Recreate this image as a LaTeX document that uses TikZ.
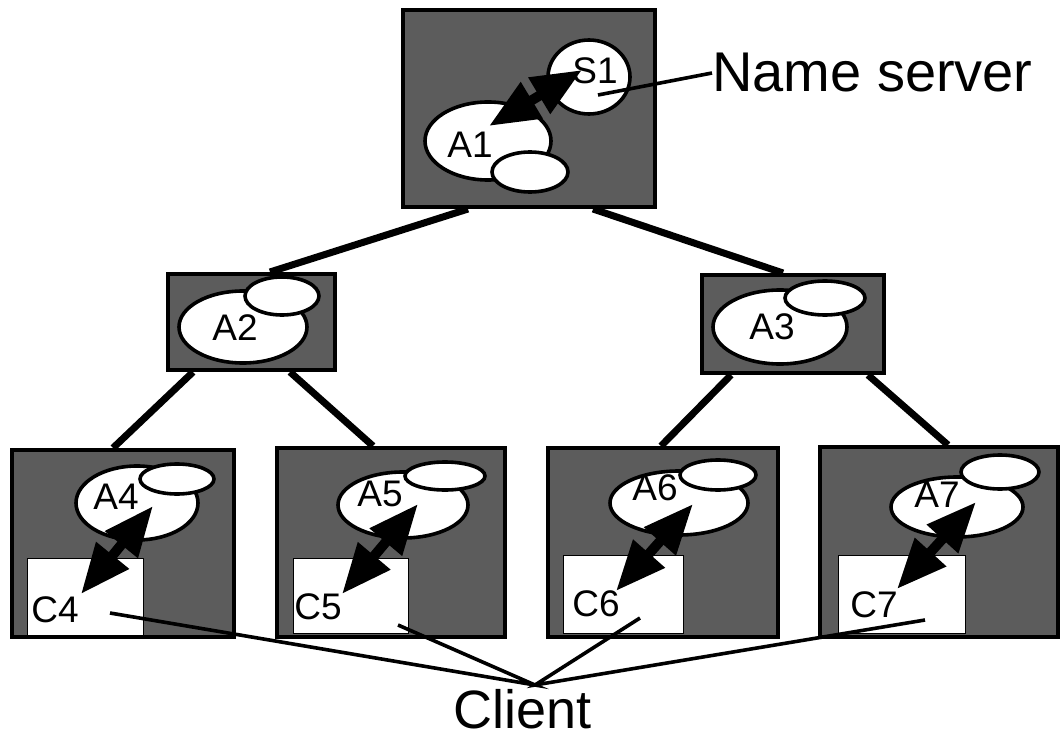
\documentclass[tikz,border=0pt]{standalone}
\usepackage{fontspec}
\setmainfont{Liberation Sans}
\usetikzlibrary{arrows.meta,shapes.geometric}
\begin{document}
\begin{tikzpicture}[x=1pt,y=-1pt,
  hostbox/.style={draw=black, line width=4pt, fill=black!64, rectangle, inner sep=0pt},
  agent/.style={draw=black, line width=3.6pt, fill=white, ellipse, inner sep=0pt},
  clientbox/.style={draw=black, line width=1pt, fill=white, rectangle, inner sep=0pt},
  lbl/.style={font=\fontsize{37}{37}\selectfont, inner sep=0pt},
  biglbl/.style={font=\fontsize{56}{56}\selectfont, inner sep=0pt},
  link/.style={line width=7pt},
  thin/.style={line width=3.6pt},
  dbl/.style={line width=10pt, {Triangle[length=50pt,width=40pt]}-{Triangle[length=50pt,width=40pt]}}]
\useasboundingbox (0,0) rectangle (1063,741);

% boxes (nodes)
\node[hostbox, minimum width=252pt, minimum height=197pt] (top) at (529,108.5) {};
\node[hostbox, minimum width=167pt, minimum height=96pt] (a2box) at (251.5,322) {};
\node[hostbox, minimum width=182pt, minimum height=98pt] (a3box) at (793,324) {};
\node[hostbox, minimum width=222pt, minimum height=187pt] (a4box) at (123,543.5) {};
\node[hostbox, minimum width=228pt, minimum height=189pt] (a5box) at (391,542.5) {};
\node[hostbox, minimum width=230pt, minimum height=189pt] (a6box) at (663,542.5) {};
\node[hostbox, minimum width=238pt, minimum height=190pt] (a7box) at (939,542) {};

% tree links
\draw[link] ([xshift=67pt]top.south west) -- ([xshift=104pt]a2box.north west);
\draw[link] ([xshift=192pt]top.south west) -- ([xshift=83pt]a3box.north west);
\draw[link] ([xshift=27pt]a2box.south west) -- ([xshift=103pt]a4box.north west);
\draw[link] ([xshift=124pt]a2box.south west) -- ([xshift=98pt]a5box.north west);
\draw[link] ([xshift=31pt]a3box.south west) -- ([xshift=115pt]a6box.north west);
\draw[link] ([xshift=168pt]a3box.south west) -- ([xshift=130pt]a7box.north west);

% top server
\node[agent, minimum width=82pt, minimum height=74pt] (s1) at (589,77) {};
\node[agent, minimum width=126pt, minimum height=78pt] (a1) at (488,141) {};
\node[agent, minimum width=76pt, minimum height=40pt] (a1s) at (530,172) {};
\node[lbl] (s1t) at (595,71) {S1};
\node[lbl] (a1t) at (470,145) {A1};

% middle
\node[agent, minimum width=128pt, minimum height=72pt] (a2) at (243,327) {};
\node[agent, minimum width=74pt, minimum height=38pt] (a2s) at (282,296) {};
\node[lbl] (a2t) at (235,328) {A2};
\node[agent, minimum width=134pt, minimum height=74pt] (a3) at (780,327) {};
\node[agent, minimum width=80pt, minimum height=34pt] (a3s) at (825,298) {};
\node[lbl] (a3t) at (772,327) {A3};

% bottom agents
\node[agent, minimum width=122pt, minimum height=74pt] (a4) at (137,503) {};
\node[agent, minimum width=74pt, minimum height=30pt] (a4s) at (177,479) {};
\node[lbl] (a4t) at (116,497) {A4};
\node[agent, minimum width=130pt, minimum height=66pt] (a5) at (403,505) {};
\node[agent, minimum width=80pt, minimum height=28pt] (a5s) at (445,476) {};
\node[lbl] (a5t) at (380,494) {A5};
\node[agent, minimum width=138pt, minimum height=64pt] (a6) at (679,503) {};
\node[agent, minimum width=76pt, minimum height=30pt] (a6s) at (718,475) {};
\node[lbl] (a6t) at (655,488) {A6};
\node[agent, minimum width=132pt, minimum height=60pt] (a7) at (957,507) {};
\node[agent, minimum width=78pt, minimum height=34pt] (a7s) at (1000,472) {};
\node[lbl] (a7t) at (937,495) {A7};

% clients
\node[clientbox, minimum width=116pt, minimum height=77pt] (c4) at (85,596.5) {};
\node[clientbox, minimum width=115pt, minimum height=75pt] (c5) at (350.5,595.5) {};
\node[clientbox, minimum width=120pt, minimum height=78pt] (c6) at (623,594) {};
\node[clientbox, minimum width=127pt, minimum height=78pt] (c7) at (901.5,594) {};
\node[lbl] (c4t) at (55,610) {C4};
\node[lbl] (c5t) at (318,607) {C5};
\node[lbl] (c6t) at (596,604) {C6};
\node[lbl] (c7t) at (874,605) {C7};

% arrow end points
\coordinate (s1p) at (582,70);
\coordinate (a1p) at (489,126);
\coordinate (a4p) at (153,506);
\coordinate (c4p) at (81,594);
\coordinate (a5p) at (418,504);
\coordinate (c5p) at (342,594);
\coordinate (a6p) at (693,504);
\coordinate (c6p) at (616,591);
\coordinate (a7p) at (976,502);
\coordinate (c7p) at (897,589);
\draw[dbl] (a1p) -- (s1p);
\draw[dbl] (a4p) -- (c4p);
\draw[dbl] (a5p) -- (c5p);
\draw[dbl] (a6p) -- (c6p);
\draw[dbl] (a7p) -- (c7p);

% labels
\node[biglbl, anchor=west] (ns) at (712,73) {Name server};
\coordinate (nsp) at (598,95);
\draw[thin] (nsp) -- (ns.west);

\node[biglbl, font=\fontsize{54}{54}\selectfont] (client) at (523,709) {Client};
\coordinate (meet) at (535,685);
\coordinate (c4l) at (110,613);
\coordinate (c5l) at (398,625);
\coordinate (c6l) at (640,618);
\coordinate (c7l) at (925,620);
\draw[thin] (c4l) -- (meet) -- (c5l);
\draw[thin] (c6l) -- (meet) -- (c7l);
\end{tikzpicture}
\end{document}
